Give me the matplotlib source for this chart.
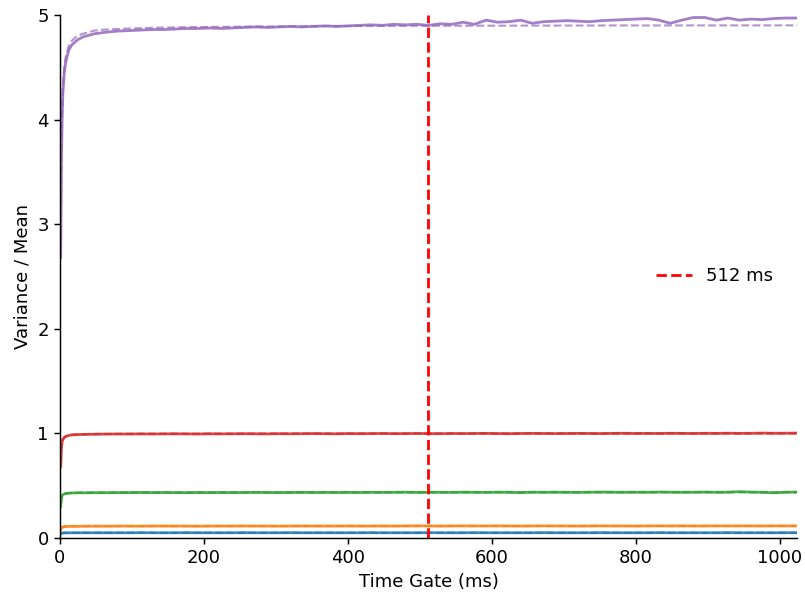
import matplotlib
matplotlib.use("Agg")
import matplotlib.pyplot as plt

plt.rcParams.update({
    "font.size": 13,
    "axes.linewidth": 1.05,
    "xtick.major.size": 4.5,
    "ytick.major.size": 4.5,
    "xtick.major.width": 1.05,
    "ytick.major.width": 1.05,
})

# time gates (ms): dense at short gates, every 16 ms afterwards
t_gate = [1, 2, 3, 4, 6, 8, 12, 16, 24, 32, 48, 64] + list(range(80, 1025, 16))

# variance / mean per source
vm_blue = [0.040, 0.045, 0.047, 0.048, 0.049, 0.049, 0.050, 0.050, 0.050, 0.050, 0.050, 0.050,
           0.050, 0.050, 0.051, 0.050, 0.050, 0.050, 0.051, 0.050, 0.050, 0.050,
           0.050, 0.051, 0.050, 0.050, 0.050, 0.051, 0.050, 0.050, 0.050, 0.050,
           0.050, 0.050, 0.051, 0.050, 0.050, 0.050, 0.050, 0.051, 0.050, 0.050,
           0.050, 0.051, 0.050, 0.050, 0.050, 0.050, 0.050, 0.051, 0.050, 0.050,
           0.050, 0.050, 0.051, 0.050, 0.050, 0.050, 0.050, 0.051, 0.050, 0.050,
           0.050, 0.050, 0.050, 0.051, 0.050, 0.050, 0.050, 0.050, 0.051, 0.050]
vm_orange = [0.080, 0.095, 0.100, 0.105, 0.108, 0.110, 0.111, 0.112, 0.112, 0.113, 0.113, 0.113,
             0.114, 0.114, 0.113, 0.114, 0.115, 0.114, 0.114, 0.113, 0.114, 0.114,
             0.114, 0.115, 0.114, 0.114, 0.113, 0.114, 0.115, 0.114, 0.114, 0.114,
             0.115, 0.114, 0.114, 0.115, 0.114, 0.115, 0.116, 0.115, 0.114, 0.115,
             0.116, 0.115, 0.115, 0.116, 0.115, 0.114, 0.115, 0.116, 0.115, 0.115,
             0.114, 0.115, 0.116, 0.115, 0.115, 0.114, 0.115, 0.116, 0.115, 0.116,
             0.115, 0.115, 0.116, 0.115, 0.116, 0.115, 0.115, 0.116, 0.115, 0.116]
vm_green = [0.300, 0.380, 0.405, 0.415, 0.420, 0.425, 0.428, 0.430, 0.432, 0.432, 0.433, 0.433,
            0.434, 0.434, 0.435, 0.434, 0.435, 0.434, 0.433, 0.435, 0.434, 0.435,
            0.434, 0.435, 0.436, 0.435, 0.434, 0.435, 0.436, 0.435, 0.436, 0.435,
            0.436, 0.435, 0.437, 0.436, 0.437, 0.438, 0.436, 0.437, 0.437, 0.436,
            0.438, 0.437, 0.436, 0.438, 0.437, 0.434, 0.438, 0.437, 0.438, 0.437,
            0.436, 0.438, 0.439, 0.438, 0.437, 0.438, 0.437, 0.439, 0.438, 0.437,
            0.438, 0.439, 0.437, 0.438, 0.443, 0.439, 0.437, 0.432, 0.438, 0.439]
vm_red = [0.680, 0.860, 0.920, 0.940, 0.960, 0.970, 0.980, 0.985, 0.988, 0.990, 0.992, 0.993,
          0.994, 0.994, 0.995, 0.994, 0.995, 0.996, 0.995, 0.994, 0.996, 0.995,
          0.996, 0.997, 0.996, 0.995, 0.997, 0.996, 0.997, 0.998, 0.997, 0.996,
          0.998, 0.997, 0.998, 0.999, 0.997, 0.998, 0.999, 0.998, 0.997, 0.999,
          0.998, 0.999, 1.000, 0.998, 0.997, 0.999, 1.000, 0.999, 0.998, 0.999,
          1.000, 0.999, 0.998, 1.000, 1.001, 0.999, 1.000, 0.999, 1.001, 1.000,
          0.999, 1.001, 1.000, 1.002, 1.000, 1.001, 1.003, 1.001, 1.002, 1.003]
vm_purple = [2.68, 3.60, 4.00, 4.25, 4.45, 4.55, 4.66, 4.71, 4.76, 4.79, 4.82, 4.835,
             4.845, 4.850, 4.855, 4.860, 4.860, 4.865, 4.870, 4.870, 4.875, 4.870,
             4.875, 4.880, 4.885, 4.880, 4.885, 4.890, 4.885, 4.890, 4.895, 4.890,
             4.895, 4.900, 4.905, 4.900, 4.910, 4.905, 4.910, 4.900, 4.915, 4.910,
             4.930, 4.910, 4.950, 4.930, 4.935, 4.950, 4.920, 4.935, 4.940, 4.945,
             4.940, 4.935, 4.945, 4.950, 4.955, 4.960, 4.965, 4.950, 4.920, 4.950,
             4.975, 4.975, 4.950, 4.970, 4.950, 4.960, 4.955, 4.965, 4.970, 4.970]

# fitted curves, evaluated on a coarser grid
t_fit = [1, 2, 3, 4, 6, 8, 12, 16, 24, 32, 48, 64, 96, 128, 192, 256, 384, 512, 768, 1024]
fit_blue = [0.045, 0.047, 0.048, 0.049, 0.049, 0.050, 0.050, 0.050, 0.050, 0.050,
            0.050, 0.050, 0.050, 0.050, 0.050, 0.050, 0.050, 0.050, 0.050, 0.050]
fit_orange = [0.090, 0.098, 0.103, 0.106, 0.109, 0.110, 0.111, 0.112, 0.113, 0.113,
              0.114, 0.114, 0.114, 0.114, 0.114, 0.115, 0.115, 0.115, 0.115, 0.115]
fit_green = [0.330, 0.385, 0.405, 0.414, 0.421, 0.425, 0.429, 0.431, 0.432, 0.433,
             0.434, 0.434, 0.435, 0.435, 0.435, 0.436, 0.436, 0.436, 0.437, 0.437]
fit_red = [0.720, 0.870, 0.925, 0.945, 0.963, 0.972, 0.981, 0.986, 0.990, 0.992,
           0.994, 0.995, 0.996, 0.997, 0.997, 0.998, 0.998, 0.999, 0.999, 0.999]
fit_purple = [2.75, 3.70, 4.10, 4.30, 4.50, 4.60, 4.70, 4.75, 4.80, 4.82,
              4.85, 4.86, 4.870, 4.877, 4.884, 4.888, 4.893, 4.896, 4.899, 4.900]

gate_ms = 512

series = [
    (vm_blue, fit_blue, "tab:blue"),
    (vm_orange, fit_orange, "tab:orange"),
    (vm_green, fit_green, "tab:green"),
    (vm_red, fit_red, "tab:red"),
    (vm_purple, fit_purple, "tab:purple"),
]

fig = plt.figure(figsize=(8.05, 5.96), dpi=100)
ax = fig.add_axes([0.0745, 0.0973, 0.9155, 0.8777])

for vm, fit, color in series:
    ax.plot(t_gate, vm, "-", color=color, lw=2, alpha=0.85)
    ax.plot(t_fit, fit, "--", color=color, lw=1.5, alpha=0.7)

ax.axvline(gate_ms, color="red", ls="--", lw=2, label=f"{gate_ms} ms")

ax.set_xlim(0, 1024)
ax.set_ylim(0, 5)
ax.set_xlabel("Time Gate (ms)")
ax.set_ylabel("Variance / Mean")
ax.spines["top"].set_visible(False)
ax.spines["right"].set_visible(False)
ax.legend(loc="center right", frameon=False, bbox_to_anchor=(0.99, 0.5))

fig.savefig("out.png", dpi=100)
